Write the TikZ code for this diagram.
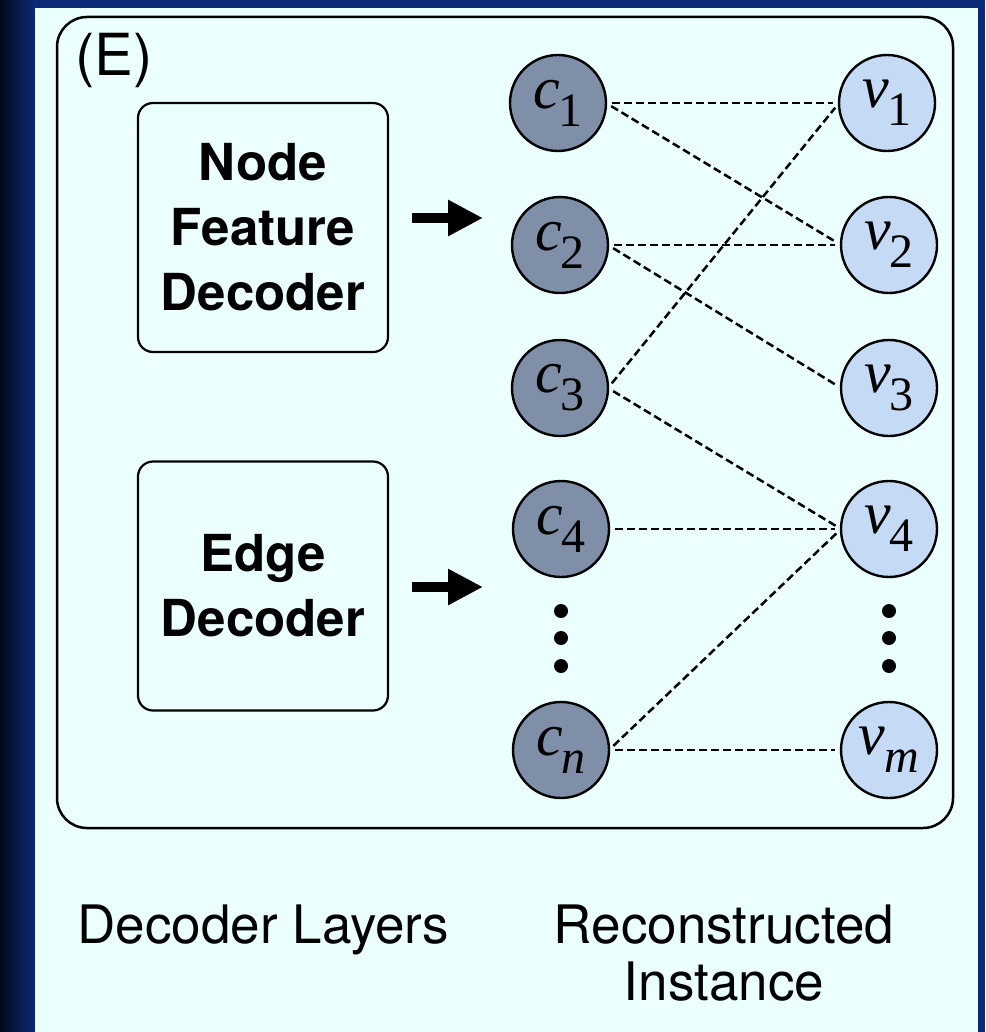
\documentclass[tikz,border=0pt]{standalone}
\usepackage{fontspec}
\setmainfont{TeX Gyre Heros}
\newfontfamily\tms{Liberation Serif}
\usetikzlibrary{arrows.meta}

\definecolor{panel}{HTML}{EBFFFF}
\definecolor{navy}{HTML}{0B2B77}
\definecolor{deepnavy}{HTML}{03081C}
\definecolor{cfill}{HTML}{7F8FA8}
\definecolor{vfill}{HTML}{C5DAF5}

% italic symbol with a lowered subscript
\newcommand\symsub[2]{{\fontsize{60}{60}\selectfont\tms\itshape #1}\kern-1pt\raisebox{-18pt}{\fontsize{48}{48}\selectfont\tms #2}}

\tikzset{
  cnode/.style={circle, draw, line width=2.4pt, fill=cfill, minimum size=96pt, inner sep=0pt, outer sep=0pt},
  vnode/.style={circle, draw, line width=2.4pt, fill=vfill, minimum size=96pt, inner sep=0pt, outer sep=0pt},
  link/.style={dash pattern=on 8pt off 4pt, line width=2.5pt, shorten <=6pt, shorten >=6pt},
  decbox/.style={draw, rounded corners=15pt, line width=2.2pt, minimum width=250pt, minimum height=249pt,
    align=center, font=\fontsize{51}{65}\selectfont\bfseries, inner sep=0pt, outer sep=0pt},
  bigarrow/.style={line width=10pt, -{Triangle[length=35pt,width=34pt]}},
  caption/.style={font=\fontsize{53}{57}\selectfont, align=center, inner sep=0pt},
}

\begin{document}
\begin{tikzpicture}[x=1pt, y=-1pt]
  % backdrop
  \useasboundingbox (0,0) rectangle (985,1032);
  \fill[navy] (0,0) rectangle (985,1032);
  \shade[left color=deepnavy, right color=navy] (0,0) rectangle (35,1032);
  \fill[panel] (35,8) rectangle (978,1032);

  % outer frame
  \draw[line width=2.5pt, rounded corners=30pt] (57,17) rectangle (953,828);
  \node[anchor=base west, font=\fontsize{58}{58}\selectfont, inner sep=0pt] (lbl) at (75,76) {(E)};

  % decoder boxes
  \node[decbox] (nfd) at (263,227.5) {Node\\Feature\\Decoder};
  \node[decbox] (ed) at (263,586) {Edge\\Decoder};

  % reconstructed nodes
  \node[cnode] (c1) at (558,103) {\symsub{c}{1}};
  \node[cnode] (c2) at (560,245) {\symsub{c}{2}};
  \node[cnode] (c3) at (560,388) {\symsub{c}{3}};
  \node[cnode] (c4) at (561,529) {\symsub{c}{4}};
  \node[cnode] (cn) at (561,750) {\symsub{c}{\itshape n}};

  \node[vnode] (v1) at (887,103) {\symsub{v}{1}};
  \node[vnode] (v2) at (889,245) {\symsub{v}{2}};
  \node[vnode] (v3) at (889,388) {\symsub{v}{3}};
  \node[vnode] (v4) at (889,529) {\symsub{v}{4}};
  \node[vnode] (vm) at (889,750) {\symsub{v}{\itshape m}};

  % vertical ellipses
  \foreach \yy in {611,638,666} {
    \fill (561,\yy) circle (7pt);
    \fill (889,\yy) circle (7pt);
  }

  % arrows from the decoders
  \draw[bigarrow] ([xshift=24pt,yshift=9.5pt]nfd.east) -- ++(71,0);
  \draw[bigarrow] ([xshift=24pt,yshift=-1pt]ed.east) -- ++(71,0);

  % bipartite links
  \draw[link] (c1.east) -- (v1.west);
  \draw[link] (c1.east) -- (v2.west);
  \draw[link] (c2.east) -- (v2.west);
  \draw[link] (c2.east) -- (v3.west);
  \draw[link] (c3.east) -- (v1.west);
  \draw[link] (c3.east) -- (v4.west);
  \draw[link] (c4.east) -- (v4.west);
  \draw[link] (cn.east) -- (v4.west);
  \draw[link] (cn.east) -- (vm.west);

  % captions
  \node[caption, anchor=base] (cap1) at (263.5,943) {Decoder Layers};
  \node[caption, anchor=base] (cap2) at (724,1000) {Reconstructed\\Instance};
\end{tikzpicture}
\end{document}
